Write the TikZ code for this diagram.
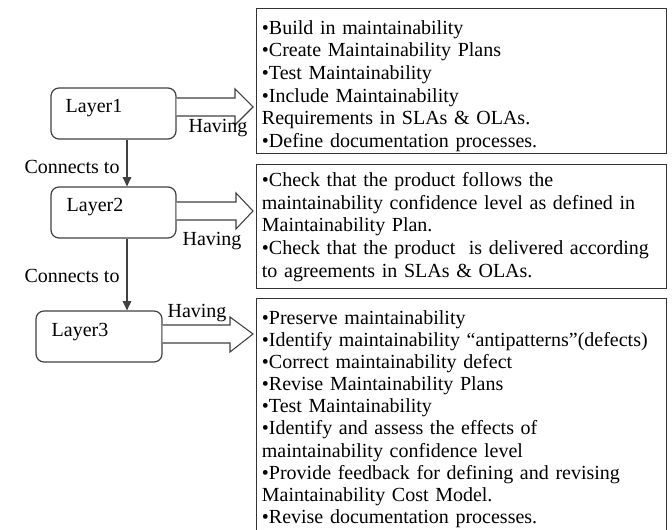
\documentclass[tikz,border=0pt]{standalone}
\usepackage{fontspec}
\setmainfont{Liberation Serif}
\usetikzlibrary{calc,arrows.meta}
\begin{document}
\begin{tikzpicture}[x=0.75pt,y=-0.75pt,
  txt/.style={font=\fontsize{15}{17}\selectfont, inner sep=0pt},
  layerbox/.style={draw=black!75, line width=0.9pt, rounded corners=6pt,
    minimum width=93.75pt, minimum height=38.25pt, inner sep=0pt},
  infobox/.style={draw=black!80, line width=0.9pt, anchor=north west,
    minimum width=307.5pt, inner sep=0pt},
  infotext/.style={text width=299.5pt, align=left, inner xsep=4pt, inner ysep=0pt,
    font=\fontsize{15}{17}\selectfont},
  conn/.style={draw=black!75, line width=0.8pt, -{Triangle[length=7pt,width=6.5pt]}},
  blockarrow/.style={draw=black!75, line width=0.8pt, fill=white, line join=miter}
]
\useasboundingbox (0,0) rectangle (672,530);

% layer boxes
\node[layerbox] (L1) at (113.5,113.5) {};
\node[layerbox] (L2) at (113.5,212.5) {};
\node[layerbox, minimum width=94.5pt] (L3) at (99,336.5) {};
\node[txt] (L1t) at (94,108) {Layer1};
\node[txt] (L2t) at (95,207) {Layer2};
\node[txt] (L3t) at (80,332) {Layer3};

% info boxes
\node[infobox, minimum height=108.75pt] (B1) at (256,8) {};
\node[infobox, minimum height=93pt] (B2) at (256,164) {};
\node[infobox, minimum height=176.25pt] (B3) at (256,298) {};

\node[infotext] (B1t) at ($(B1.center)+(0,5)$) {%
\textbullet Build in maintainability\\
\textbullet Create Maintainability Plans\\
\textbullet Test Maintainability\\
\textbullet Include Maintainability\\
Requirements in SLAs \& OLAs.\\
\textbullet Define documentation processes.};
\node[infotext] (B2t) at ($(B2.center)+(0,0.5)$) {%
\textbullet Check that the product follows the\\
maintainability confidence level as defined in\\
Maintainability Plan.\\
\textbullet Check that the product\ \ is\ delivered according\\
to agreements in SLAs \& OLAs.};
\node[infotext, font=\fontsize{15}{16.6}\selectfont] (B3t) at ($(B3.center)+(0,3)$) {%
\textbullet Preserve maintainability\\
\textbullet Identify maintainability ``antipatterns''(defects)\\
\textbullet Correct maintainability defect\\
\textbullet Revise Maintainability Plans\\
\textbullet Test Maintainability\\
\textbullet Identify and assess the effects of\\
maintainability confidence level\\
\textbullet Provide feedback for defining and revising\\
Maintainability Cost Model.\\
\textbullet Revise documentation processes.};

% vertical connectors
\coordinate (cx) at (127,0);
\draw[conn] (L1.south -| cx) -- (L2.north -| cx);
\draw[conn] (L2.south -| cx) -- (L3.north -| cx);
\node[txt] (c1) at (72,167) {Connects to};
\node[txt] (c2) at (72,276) {Connects to};

% block arrows
\draw[blockarrow] (L1.east |- 0,98) -- (235,98) -- (235,89) -- ($(B1.west |- 0,107)+(-3,0)$)
  -- (235,125) -- (235,116) -- (L1.east |- 0,116);
\draw[blockarrow] (L2.east |- 0,202) -- (236,202) -- (236,193) -- ($(B2.west |- 0,211)+(-3,0)$)
  -- (236,229) -- (236,220) -- (L2.east |- 0,220);
\draw[blockarrow] (L3.east |- 0,325) -- (230,325) -- (230,317) -- ($(B3.west |- 0,334)+(-3,0)$)
  -- (230,352) -- (230,343) -- (L3.east |- 0,343);

\node[txt] (h1) at (218,128) {Having};
\node[txt] (h2) at (212,241) {Having};
\node[txt] (h3) at (197,313) {Having};
\end{tikzpicture}
\end{document}
